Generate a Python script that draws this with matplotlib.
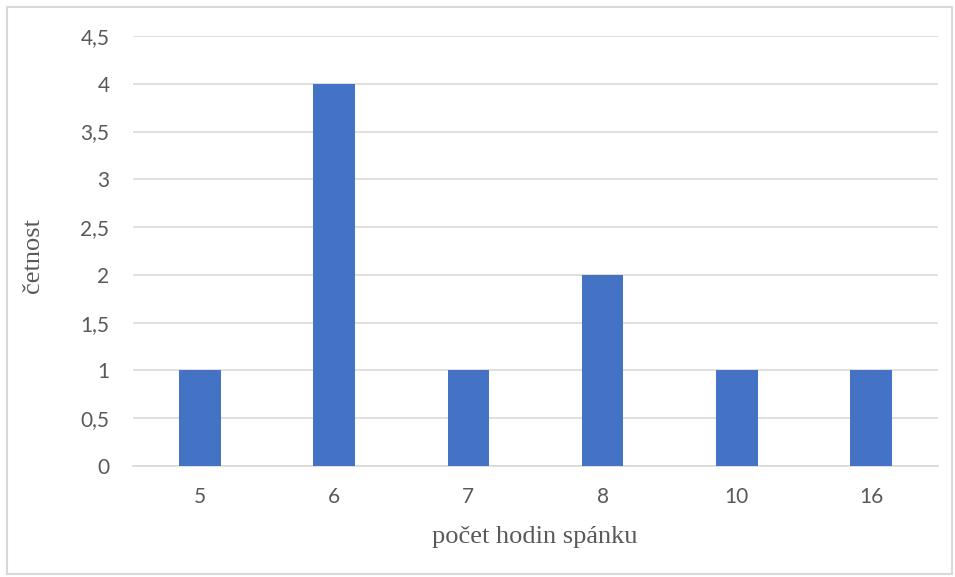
import matplotlib.pyplot as plt
from matplotlib.patches import Rectangle

# hours of sleep vs. frequency
hodiny = ["5", "6", "7", "8", "10", "16"]
cetnost = [1, 4, 1, 2, 1, 1]
y_ticks = [0, 0.5, 1, 1.5, 2, 2.5, 3, 3.5, 4, 4.5]
y_labels = ["0", "0,5", "1", "1,5", "2", "2,5", "3", "3,5", "4", "4,5"]

TICK_COLOR = "#595959"
GRID_COLOR = "#d9d9d9"

fig = plt.figure(figsize=(9.55, 5.77), dpi=100)
ax = fig.add_axes([0.1393, 0.1924, 0.8429, 0.7452])

x = range(len(hodiny))
ax.bar(x, cetnost, width=0.31, color="#4472C4", zorder=3)

ax.set_xlim(-0.5, len(hodiny) - 0.5)
ax.set_ylim(0, 4.5)
ax.set_yticks(y_ticks)
ax.set_yticklabels(y_labels)
ax.set_xticks(list(x))
ax.set_xticklabels(hodiny)
ax.grid(axis="y", color=GRID_COLOR, lw=1.2, zorder=0)
ax.tick_params(axis="both", length=0, labelsize=15, colors=TICK_COLOR)
ax.tick_params(axis="y", pad=17)
ax.tick_params(axis="x", pad=15)
for lab in ax.get_xticklabels() + ax.get_yticklabels():
    lab.set_family("Lato")
for side in ["left", "right", "top"]:
    ax.spines[side].set_visible(False)
ax.spines["bottom"].set_color(GRID_COLOR)
ax.spines["bottom"].set_linewidth(1.2)

fig.text(0.56, 0.069, "počet hodin spánku", ha="center", va="center",
         family="Liberation Serif", fontsize=19, color=TICK_COLOR)
fig.text(0.035, 0.558, "četnost", ha="center", va="center", rotation=90,
         family="Liberation Serif", fontsize=19, color=TICK_COLOR)

# light frame around the whole chart
fig.patches.append(Rectangle((7 / 955, 3 / 577), 945 / 955, 567 / 577,
                             transform=fig.transFigure, fill=False,
                             edgecolor=GRID_COLOR, lw=1.5))

fig.savefig("out.png", dpi=100)
